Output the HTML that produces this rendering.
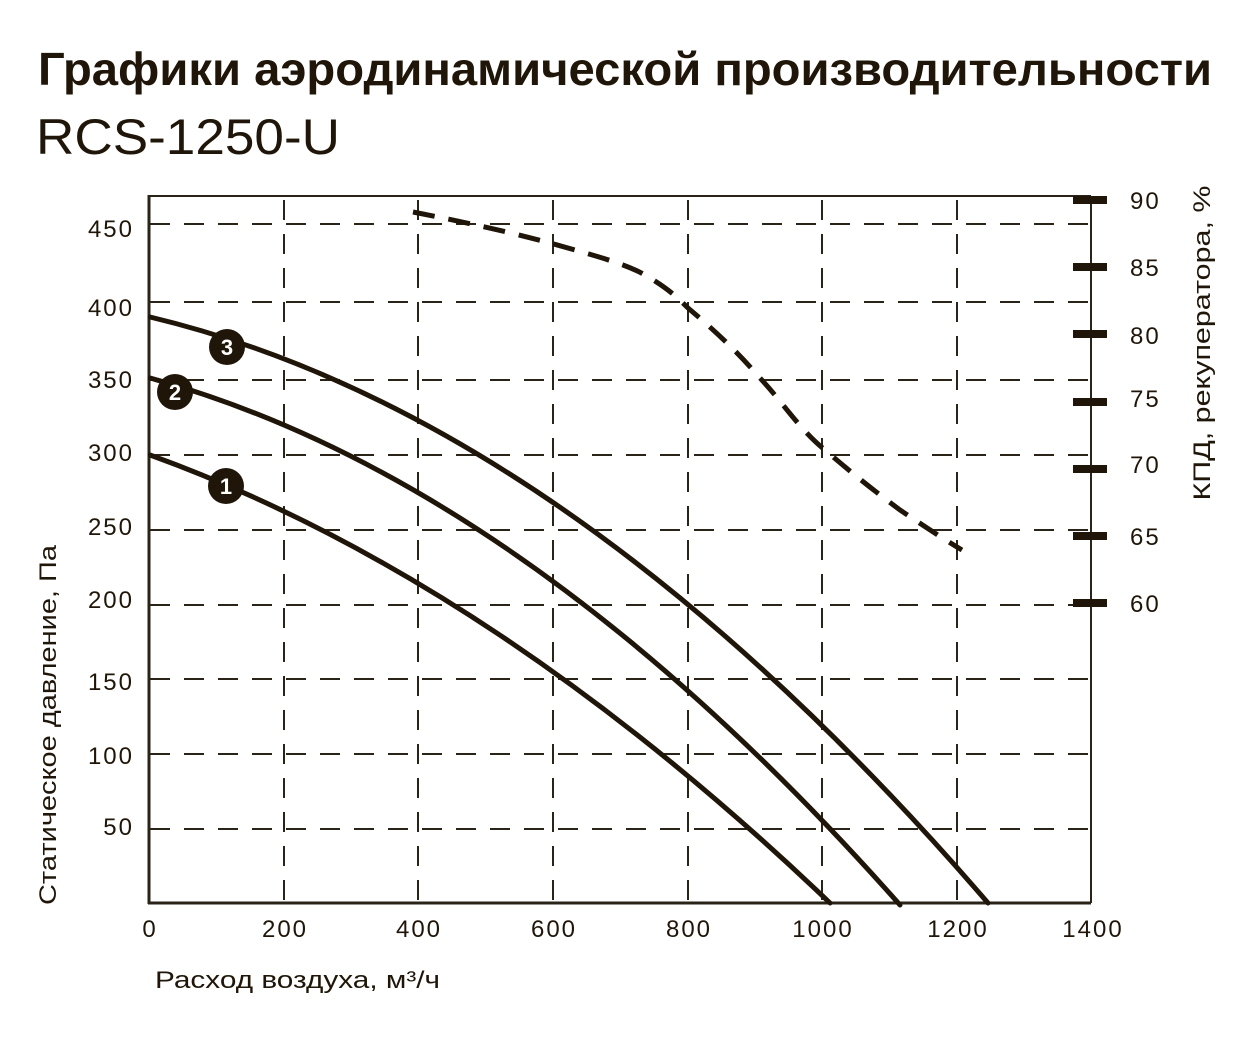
<!DOCTYPE html>
<html><head><meta charset="utf-8"><style>
html,body{margin:0;padding:0;background:#fff;}
svg{display:block;font-family:"Liberation Sans",sans-serif;}
</style></head><body>
<svg width="1252" height="1043" viewBox="0 0 1252 1043" xmlns="http://www.w3.org/2000/svg">
<text x="38" y="85" font-size="46" font-weight="bold" fill="#1f1609" textLength="1174" lengthAdjust="spacingAndGlyphs">Графики аэродинамической производительности</text>
<text x="36" y="154" font-size="50" fill="#1f1609" textLength="304" lengthAdjust="spacingAndGlyphs">RCS-1250-U</text>
<g stroke="#2a2318" stroke-width="2" stroke-dasharray="20,14" fill="none">
<line x1="150" y1="224" x2="1091" y2="224"/>
<line x1="150" y1="302" x2="1091" y2="302"/>
<line x1="150" y1="380" x2="1091" y2="380"/>
<line x1="150" y1="455" x2="1091" y2="455"/>
<line x1="150" y1="530" x2="1091" y2="530"/>
<line x1="150" y1="605" x2="1091" y2="605"/>
<line x1="150" y1="679" x2="1091" y2="679"/>
<line x1="150" y1="754" x2="1091" y2="754"/>
<line x1="150" y1="829" x2="1091" y2="829"/>
<line x1="284" y1="200" x2="284" y2="903"/>
<line x1="418" y1="200" x2="418" y2="903"/>
<line x1="553" y1="200" x2="553" y2="903"/>
<line x1="688" y1="200" x2="688" y2="903"/>
<line x1="822" y1="200" x2="822" y2="903"/>
<line x1="957" y1="200" x2="957" y2="903"/>
</g>
<g stroke="#2a2318" fill="none">
<line x1="149" y1="196" x2="1091" y2="196" stroke-width="2"/>
<line x1="149" y1="195" x2="149" y2="904" stroke-width="3"/>
<line x1="148" y1="903" x2="1091" y2="903" stroke-width="3"/>
<line x1="1091" y1="196" x2="1091" y2="903" stroke-width="2"/>
</g>
<g fill="#1f1609">
<rect x="1073" y="196" width="34" height="8"/>
<rect x="1073" y="263" width="34" height="8"/>
<rect x="1073" y="330" width="34" height="8"/>
<rect x="1073" y="398" width="34" height="8"/>
<rect x="1073" y="465" width="34" height="8"/>
<rect x="1073" y="532" width="34" height="8"/>
<rect x="1073" y="599" width="34" height="8"/>
</g>
<g stroke="#1f1609" stroke-width="5" fill="none" stroke-linecap="round">
<path d="M150,455 Q490,578 830,903"/>
<path d="M150,378 Q525,481 900,905"/>
<path d="M150,317 Q569,417 988,903"/>
<path d="M413,212 C480,225 520,235 550,243 C600,257 630,265 650,278 C670,290 680,300 688,308 C720,335 740,355 760,378 C785,405 800,430 825,450 C860,480 880,495 900,510 C930,530 945,540 962,550" stroke-dasharray="22,14" stroke-linecap="butt"/>
</g>
<g fill="#1f1609"><circle cx="227" cy="347" r="18"/><circle cx="175" cy="392" r="18"/><circle cx="226" cy="486" r="18"/></g>
<g fill="#fff" font-size="22" font-weight="bold" text-anchor="middle">
<text x="227" y="355">3</text><text x="175" y="400">2</text><text x="226" y="494">1</text>
</g>
<g fill="#1f1609" font-size="24" letter-spacing="2" text-anchor="end">
<text x="134" y="237">450</text><text x="134" y="316">400</text><text x="134" y="388">350</text>
<text x="134" y="461">300</text><text x="134" y="535">250</text><text x="134" y="608">200</text>
<text x="134" y="690">150</text><text x="134" y="764">100</text><text x="134" y="835">50</text>
</g>
<g fill="#1f1609" font-size="24" letter-spacing="2" text-anchor="middle">
<text x="150" y="937">0</text><text x="285" y="937">200</text><text x="419" y="937">400</text>
<text x="554" y="937">600</text><text x="689" y="937">800</text><text x="823" y="937">1000</text>
<text x="958" y="937">1200</text><text x="1093" y="937">1400</text>
</g>
<g fill="#1f1609" font-size="24" letter-spacing="2">
<text x="1130" y="209">90</text><text x="1130" y="276">85</text><text x="1130" y="344">80</text>
<text x="1130" y="407">75</text><text x="1130" y="473">70</text><text x="1130" y="545">65</text>
<text x="1130" y="612">60</text>
</g>
<text x="155" y="988" font-size="24" fill="#1f1609" textLength="285" lengthAdjust="spacingAndGlyphs">Расход воздуха, м³/ч</text>
<text transform="translate(56,725) rotate(-90)" font-size="24" fill="#1f1609" text-anchor="middle" textLength="360" lengthAdjust="spacingAndGlyphs">Статическое давление, Па</text>
<text transform="translate(1210,343) rotate(-90)" font-size="24" fill="#1f1609" text-anchor="middle" textLength="315" lengthAdjust="spacingAndGlyphs">КПД, рекуператора, %</text>
</svg>
</body></html>
